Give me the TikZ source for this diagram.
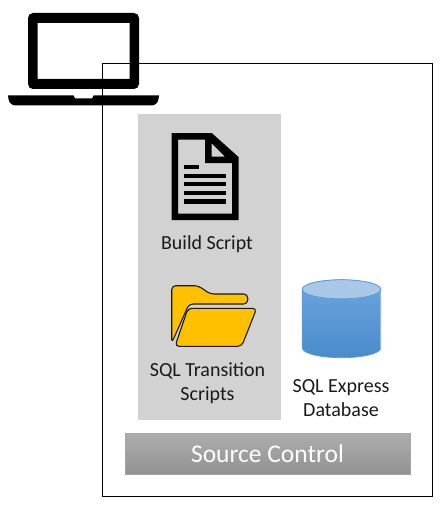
\documentclass[tikz,border=0pt]{standalone}
\usepackage{fontspec}
\setmainfont{Carlito}
\definecolor{panelgray}{HTML}{D2D2D2}
\definecolor{folderfill}{HTML}{FFC000}
\definecolor{dbtop}{HTML}{A9C8E8}
\definecolor{dbhi}{HTML}{6BA6DF}
\definecolor{dblo}{HTML}{4A8BCA}
\definecolor{dbline}{HTML}{5B9BD5}
\definecolor{txt}{HTML}{1A1A1A}
\tikzset{
  lbl/.style={font=\fontsize{20}{24}\selectfont, text=txt, align=center, inner sep=0pt},
  icon/.style={fill=black, draw=none},
  folderpart/.style={fill=folderfill, draw=txt, line width=1.1pt, line join=round},
  docline/.style={fill=black, draw=none}
}
\begin{document}
\begin{tikzpicture}[x=1pt,y=-1pt]
\useasboundingbox (0,0) rectangle (441,508);
\fill[white] (0,0) rectangle (441,508);
% outer frame
\draw[black, line width=1.1pt] (102.5,63.5) rectangle (432.5,496.5);
% laptop
\fill[icon, even odd rule, rounded corners=0pt]
  [rounded corners=5pt] (28,13) -- (139,13) -- (139,89) -- (28,89) -- cycle
  [sharp corners] (37.5,23) -- (129.5,23) -- (129.5,79) -- (37.5,79) -- cycle;
\fill[icon]
  [sharp corners] (8,95.5) -- (73.5,95.5) -- (75,98.5) -- (92,98.5) -- (93.5,95.5) -- (159,95.5)
  [rounded corners=6pt] -- (157.5,105.5) -- (9.5,105.5) [sharp corners] -- cycle;
% panel
\fill[panelgray] (138,114) rectangle (281,420);
% document icon
\fill[icon, even odd rule]
  (171.5,133) -- (211.7,133) -- (238.5,157) -- (238.5,220) -- (171.5,220) -- cycle
  (178,139.5) -- (205,139.5) -- (205,163) -- (232,163) -- (232,213.5) -- (178,213.5) -- cycle
  (211.7,143.3) -- (225,156.7) -- (211.7,156.7) -- cycle;
\fill[docline] (184.3,164.7) rectangle (198.7,169);
\fill[docline] (184.3,173.6) rectangle (225.7,178);
\fill[docline] (184.3,182) rectangle (225.7,186.3);
\fill[docline] (184.3,190.6) rectangle (225.7,194.9);
\fill[docline] (184.3,199.4) rectangle (225.7,203.7);
\node[lbl] (build) at (207,244.5) {Build Script};
% folder icon
\draw[folderpart, rounded corners=4pt]
  (171.7,343) -- (171.7,285.7) -- (198.3,285.7) -- (210,294) -- (247.7,294) -- (247.7,304)
  -- (189,304) -- cycle;
\draw[folderpart, rounded corners=4pt]
  (175,346.3) -- (188,308.3) -- (256.7,308.3) -- (241.7,346.3) -- cycle;
\node[lbl] (trans) at (207.5,383) {SQL Transition\\Scripts};
% database cylinder
\draw[dbline, line width=0.7pt, top color=dbhi, bottom color=dblo]
  (302.3,289.3) -- (302.3,348) arc[start angle=180, end angle=0, x radius=39.2, y radius=9.7]
  -- (380.7,289.3) arc[start angle=0, end angle=-180, x radius=39.2, y radius=9.5] -- cycle;
\draw[dbline, line width=0.7pt, fill=dbtop] (341.5,289.3) ellipse[x radius=39.2, y radius=9.5];
\node[lbl] (db) at (341,398) {SQL Express\\Database};
% source control
\node[draw=black!35, line width=0.5pt, top color=black!32, bottom color=black!43,
      minimum width=284.5pt, minimum height=41pt, inner sep=0pt,
      text=white, font=\fontsize{25.5}{30}\selectfont] (src) at (267.5,453.7) {Source Control};
\end{tikzpicture}
\end{document}
